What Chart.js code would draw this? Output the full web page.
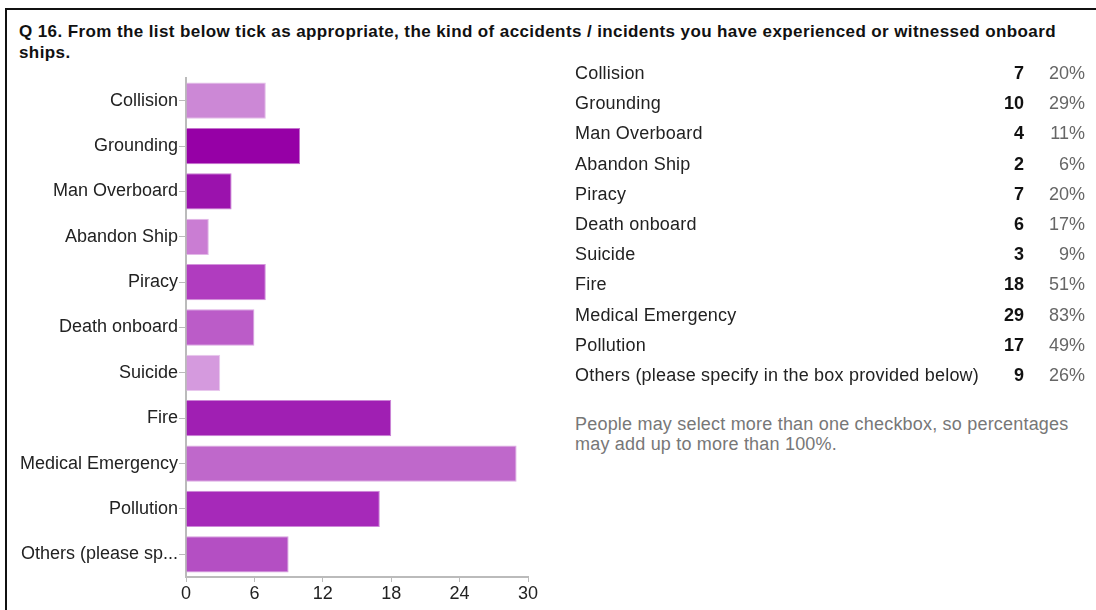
<!DOCTYPE html>
<html>
<head>
<meta charset="utf-8">
<script src="https://cdn.jsdelivr.net/npm/chart.js@4/dist/chart.umd.min.js"></script>
<style>
  body { margin: 0; background: #fff; font-family: "Liberation Sans", Arial, sans-serif; }
  #page { position: relative; width: 1096px; height: 610px; overflow: hidden; }
  #frame { position: absolute; left: 5px; top: 8px; width: 1200px; height: 700px;
           border-top: 2px solid #111; border-left: 2px solid #111; }
  #title { position: absolute; left: 19px; top: 21px; font-size: 17px; font-weight: bold;
           letter-spacing: 0.4px; line-height: 21px; color: #111; white-space: nowrap; }
  #chart { position: absolute; left: 0; top: 0; }
  #summary { position: absolute; left: 0; top: 58px; width: 1096px; }
  .row { position: relative; height: 30.2px; line-height: 30px; font-size: 18px; color: #222; }
  .row .lbl { position: absolute; left: 575px; letter-spacing: 0.2px; }
  .row .cnt { position: absolute; right: 72px; font-weight: bold; color: #111; }
  .row .pct { position: absolute; right: 11px; color: #666; }
  #note { position: absolute; left: 575px; top: 414px; font-size: 18px; letter-spacing: 0.2px;
          line-height: 20px; color: #777; width: 520px; white-space: nowrap; }
</style>
</head>
<body>
<div id="page">
  <div id="frame"></div>
  <div id="title">Q 16. From the list below tick as appropriate, the kind of accidents / incidents you have experienced or witnessed onboard<br>ships.</div>
  <canvas id="chart" width="560" height="610"></canvas>
  <div id="summary"></div>
  <div id="note">People may select more than one checkbox, so percentages<br>may add up to more than 100%.</div>
</div>
<script>
const categories = ["Collision", "Grounding", "Man Overboard", "Abandon Ship", "Piracy", "Death onboard",
  "Suicide", "Fire", "Medical Emergency", "Pollution", "Others (please specify in the box provided below)"];
const counts = [7, 10, 4, 2, 7, 6, 3, 18, 29, 17, 9];
const percents = ["20%", "29%", "11%", "6%", "20%", "17%", "9%", "51%", "83%", "49%", "26%"];
const barColors = ["#cc88d6", "#9600a6", "#9b12ad", "#ca7dd3", "#b03cbf", "#bb5cc8",
  "#d59ade", "#a01fb3", "#bf68cb", "#a629b9", "#b44fc3"];
const xTicks = [0, 6, 12, 18, 24, 30];

// summary table on the right
const summary = document.getElementById('summary');
categories.forEach((c, i) => {
  const row = document.createElement('div');
  row.className = 'row';
  row.innerHTML = '<span class="lbl">' + c + '</span><span class="cnt">' + counts[i] +
    '</span><span class="pct">' + percents[i] + '</span>';
  summary.appendChild(row);
});

function lighten(hex) {
  const n = parseInt(hex.slice(1), 16);
  const r = (n >> 16) & 255, g = (n >> 8) & 255, b = n & 255;
  const mix = v => Math.round(v + (255 - v) * 0.45);
  return 'rgb(' + mix(r) + ',' + mix(g) + ',' + mix(b) + ')';
}

const ctx = document.getElementById('chart').getContext('2d');
new Chart(ctx, {
  type: 'bar',
  data: {
    labels: categories,
    datasets: [{
      data: counts,
      backgroundColor: barColors,
      borderColor: barColors.map(lighten),
      borderWidth: 1,
      barPercentage: 0.8,
      categoryPercentage: 1
    }]
  },
  options: {
    indexAxis: 'y',
    responsive: false,
    animation: false,
    layout: { padding: { top: 78, right: 32, left: 0, bottom: 0 } },
    plugins: { legend: { display: false }, tooltip: { enabled: false } },
    scales: {
      x: {
        min: 0,
        max: 30,
        afterBuildTicks: s => { s.ticks = xTicks.map(v => ({ value: v })); },
        afterFit: s => { s.height = 33; },
        grid: { drawOnChartArea: false, drawTicks: true, tickLength: 5, color: '#bbb' },
        border: { color: '#bbb', width: 2 },
        ticks: { color: '#222', padding: 1, font: { family: 'Liberation Sans', size: 18 } }
      },
      y: {
        afterFit: s => { s.width = 186; },
        grid: { drawOnChartArea: false, drawTicks: true, tickLength: 7, color: '#bbb', offset: false },
        border: { color: '#bbb', width: 2 },
        ticks: {
          color: '#222',
          padding: 1,
          font: { family: 'Liberation Sans', size: 18 },
          callback: function (v) {
            const l = this.getLabelForValue(v);
            return l.length > 20 ? l.slice(0, 17) + '...' : l;
          }
        }
      }
    }
  }
});
</script>
</body>
</html>
